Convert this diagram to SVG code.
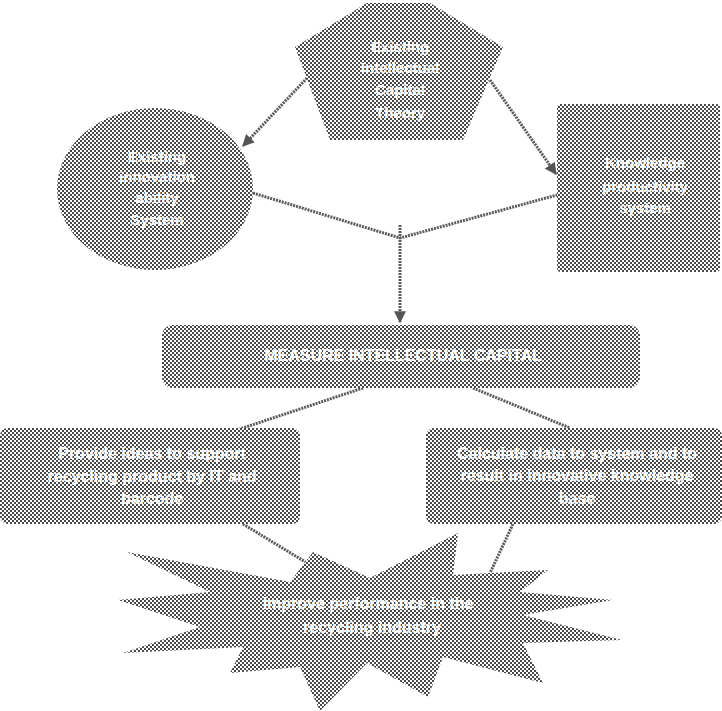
<svg xmlns="http://www.w3.org/2000/svg" width="722" height="711" viewBox="0 0 722 711">
  <defs>
    <!-- halftone screen used for every shape -->
    <pattern id="screen" patternUnits="userSpaceOnUse" width="4" height="4">
      <rect width="4" height="4" fill="#ffffff"/>
      <rect x="0" y="0" width="2" height="2" fill="#484848"/>
      <rect x="2" y="2" width="2" height="2" fill="#484848"/>
    </pattern>
    <marker id="head" viewBox="0 0 10 10" refX="9" refY="5" markerWidth="4" markerHeight="4" orient="auto">
      <path d="M0,0 L10,5 L0,10 z" fill="#555"/>
    </marker>
    <style>
      .shape { fill: url(#screen); }
      .lbl { font-family: "Liberation Sans", Arial, sans-serif; font-weight: bold; font-size: 15px; fill: #ffffff; text-anchor: middle; }
      .big { font-size: 16px; }
      .wire { stroke: #5a5a5a; stroke-width: 3; fill: none; stroke-dasharray: 2 1; }
    </style>
  </defs>
  <rect width="722" height="711" fill="#ffffff"/>

  <g id="connectors">
    <line class="wire" x1="307" y1="78" x2="243" y2="146" marker-end="url(#head)"/>
    <line class="wire" x1="490" y1="80" x2="556" y2="174" marker-end="url(#head)"/>
    <polyline class="wire" points="253,193 400,238 557,195"/>
    <line class="wire" x1="400" y1="225" x2="400" y2="322" marker-end="url(#head)"/>
    <line class="wire" x1="363" y1="388" x2="237" y2="430"/>
    <line class="wire" x1="473" y1="388" x2="570" y2="428"/>
    <line class="wire" x1="243" y1="524" x2="307" y2="563"/>
    <line class="wire" x1="513" y1="524" x2="490" y2="573"/>
  </g>

  <g id="capital-theory">
    <polygon class="shape" points="367,3 430,3 503,47 463,140 330,140 295,47"/>
    <text class="lbl" x="400" y="52">Existing</text>
    <text class="lbl" x="400" y="73">Intellectual</text>
    <text class="lbl" x="400" y="95">Capital</text>
    <text class="lbl" x="400" y="118">Theory</text>
  </g>

  <g id="innovation-system">
    <ellipse class="shape" cx="155" cy="189" rx="98" ry="81"/>
    <text class="lbl" x="157" y="162">Existing</text>
    <text class="lbl" x="157" y="182">innovation</text>
    <text class="lbl" x="157" y="203">ability</text>
    <text class="lbl" x="157" y="225">System</text>
  </g>

  <g id="knowledge-system">
    <rect class="shape" x="557" y="104" width="163" height="168" rx="4"/>
    <text class="lbl" x="645" y="168">Knowledge</text>
    <text class="lbl" x="645" y="192">productivity</text>
    <text class="lbl" x="645" y="213">system</text>
  </g>

  <g id="measure">
    <rect class="shape" x="162" y="325" width="478" height="63" rx="11"/>
    <text class="lbl big" x="403" y="361">MEASURE INTELLECTUAL CAPITAL</text>
  </g>

  <g id="provide-ideas">
    <rect class="shape" x="0" y="428" width="300" height="96" rx="8"/>
    <text class="lbl big" x="152" y="459">Provide ideas to support</text>
    <text class="lbl big" x="152" y="482">recycling product by IT and</text>
    <text class="lbl big" x="152" y="504">barcode</text>
  </g>

  <g id="calculate-data">
    <rect class="shape" x="426" y="428" width="296" height="96" rx="8"/>
    <text class="lbl big" x="577" y="459">Calculate data to system and to</text>
    <text class="lbl big" x="577" y="481">result in innovative knowledge</text>
    <text class="lbl big" x="577" y="504">base</text>
  </g>

  <g id="improve-performance">
    <polygon class="shape" points="127,552 290,582 313,552 370,578 458,533 453,575 548,570 520,592 613,600 523,615 622,640 523,643 543,683 443,657 428,697 367,663 320,711 300,667 230,673 243,647 123,653 200,627 118,600 210,592"/>
    <text class="lbl big" x="368" y="609">Improve performance in the</text>
    <text class="lbl big" x="372" y="633">recycling industry</text>
  </g>
</svg>
